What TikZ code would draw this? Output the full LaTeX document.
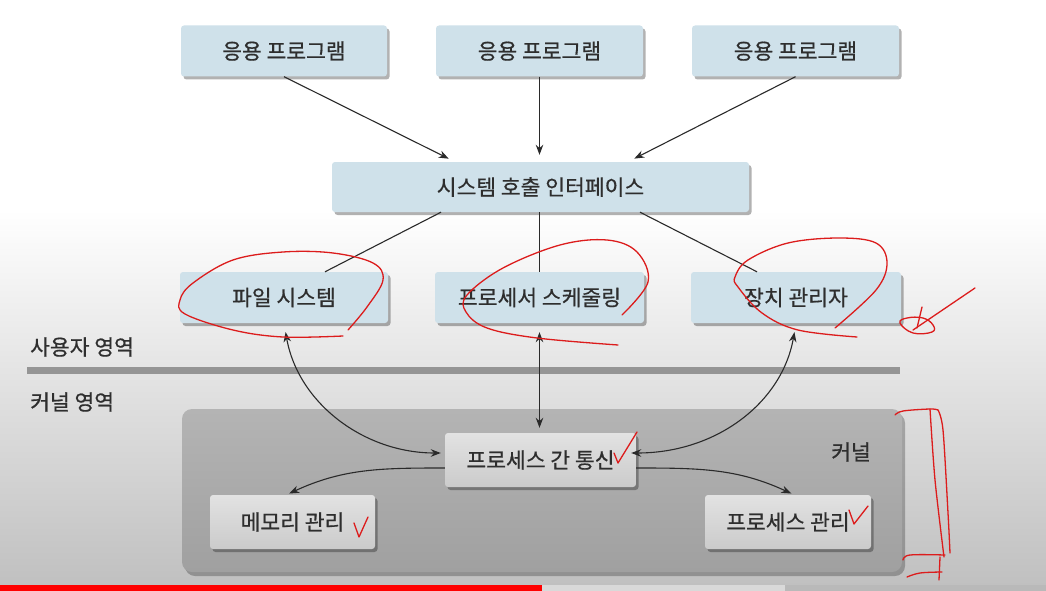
\documentclass[tikz,border=0pt]{standalone}
\usepackage{fontspec}
\setmainfont{Noto Sans CJK KR}[FakeBold=0.6]
\usetikzlibrary{arrows.meta,shadows,calc}
\definecolor{boxblue}{HTML}{CFE1EA}
\definecolor{txtc}{HTML}{2E2E2E}
\definecolor{linec}{HTML}{2A2A2A}
\definecolor{divgray}{HTML}{959595}
\definecolor{bggray}{HTML}{C0C0C0}
\definecolor{kerntop}{HTML}{B4B4B4}
\definecolor{kernbot}{HTML}{A0A0A0}
\definecolor{gboxtop}{HTML}{E2E2E2}
\definecolor{gboxbot}{HTML}{CBCBCB}
\definecolor{penred}{HTML}{DC1C1C}
\tikzset{
  shad/.style={drop shadow={shadow xshift=2.5pt, shadow yshift=-3pt, fill=black, opacity=0.3}},
  bluebox/.style={rectangle, rounded corners=3pt, fill=boxblue, text=txtc, minimum height=51pt, shad},
  greybox/.style={rectangle, rounded corners=3pt, top color=gboxtop, bottom color=gboxbot, text=txtc, minimum height=54pt, shad},
  kernelbox/.style={rectangle, rounded corners=10pt, top color=kerntop, bottom color=kernbot, drop shadow={shadow xshift=3pt, shadow yshift=-4pt, fill=black, opacity=0.25}},
  lbl/.style={text=txtc, inner sep=0pt},
  conn/.style={draw=linec, line width=1.1pt},
  tip/.tip={Stealth[length=10pt, width=7.5pt]},
  arr/.style={conn, -tip},
  darr/.style={conn, tip-tip},
  redmark/.style={draw=penred, line width=1.3pt, line cap=round, line join=round},
}
\begin{document}
\begin{tikzpicture}[x=1pt, y=1pt, font=\fontsize{21.5pt}{25pt}\selectfont]
\useasboundingbox (0,0) rectangle (1046,-591);
% background
\fill[white] (0,0) rectangle (1046,-591);
\shade[top color=white, bottom color=bggray] (0,-210) rectangle (1046,-585.5);
% progress bar
\fill[red] (0,-585) rectangle (542,-591);
\fill[gray!30] (542,-585) rectangle (785,-591);
\fill[gray!55] (785,-585) rectangle (1046,-591);

% kernel area
\node[kernelbox, minimum width=720pt, minimum height=163pt] (kern) at (542,-490.5) {};
\node[lbl] (kernlbl) at (851,-452) {커널};

% user / kernel divider
\coordinate (dl) at (27,-370);
\coordinate (dr) at (900,-370);
\draw[line width=7pt, divgray] (dl) -- (dr);
\node[lbl, anchor=west] (ulbl) at (30,-347) {사용자 영역};
\node[lbl, anchor=west] (klbl) at (30,-402) {커널 영역};

% boxes
\node[bluebox, minimum width=206pt] (app1) at (284,-51) {응용 프로그램};
\node[bluebox, minimum width=207pt] (app2) at (539.5,-51) {응용 프로그램};
\node[bluebox, minimum width=207pt] (app3) at (795.5,-51) {응용 프로그램};
\node[bluebox, minimum width=417pt, minimum height=50pt] (sci) at (540.5,-187) {시스템 호출 인터페이스};
\node[bluebox, minimum width=208pt] (fs) at (284,-297.5) {파일 시스템};
\node[bluebox, minimum width=209pt] (sched) at (539.5,-297.5) {프로세서 스케줄링};
\node[bluebox, minimum width=210pt] (dev) at (796,-297.5) {장치 관리자};
\node[greybox, minimum width=191pt] (ipc) at (540.5,-460) {프로세스 간 통신};
\node[greybox, minimum width=165pt] (mem) at (292.5,-522) {메모리 관리};
\node[greybox, minimum width=166pt] (pm) at (788,-522) {프로세스 관리};

% connectors
\draw[arr, shorten >=7pt] (app1.south) -- ([xshift=-85.5pt]sci.north);
\draw[arr, shorten >=7pt] (app2.south) -- (app2.south |- sci.north);
\draw[arr, shorten >=7pt] (app3.south) -- ([xshift=87.5pt]sci.north);
\draw[conn] ([xshift=-99.5pt]sci.south) -- ([xshift=41pt]fs.north);
\draw[conn] (sched.north |- sci.south) -- (sched.north);
\draw[conn] ([xshift=99.5pt]sci.south) -- ([xshift=-39pt]dev.north);
\draw[darr, shorten <=9pt, shorten >=4pt] (fs.south) to[out=-80, in=180] ([yshift=7pt]ipc.west);
\draw[darr, shorten <=9pt, shorten >=5pt] (sched.south) -- (sched.south |- ipc.north);
\draw[darr, shorten <=9pt, shorten >=-5pt] (dev.south) to[out=-100, in=0] ([yshift=7pt]ipc.east);
\draw[arr, shorten >=3pt] ([yshift=-8pt]ipc.west) to[out=180, in=25] ([xshift=-6pt]mem.north);
\draw[arr, shorten >=3pt] ([yshift=-8pt]ipc.east) to[out=0, in=155] ([xshift=6pt]pm.north);

% red handwritten annotations
\draw[redmark] plot[smooth, tension=0.6] coordinates {(348,-330) (367,-307) (383,-280) (373,-263) (333,-253) (283,-252) (233,-260) (193,-283) (180,-300) (185,-314) (233,-330) (283,-337) (343,-336)};
\draw[redmark] plot[smooth, tension=0.6] coordinates {(622,-315) (648,-282) (637,-252) (607,-240) (560,-245) (503,-268) (467,-295) (466,-312) (487,-328) (537,-338) (618,-345)};
\draw[redmark] plot[smooth, tension=0.6] coordinates {(835,-328) (876,-290) (887,-263) (876,-243) (839,-238) (788,-243) (748,-260) (735,-277) (738,-287) (762,-313) (798,-330) (857,-337)};
% scribble near device manager
\draw[redmark] (975,-288) -- (913,-330);
\draw[redmark] (922,-307) -- (917,-328);
\draw[redmark] plot[smooth cycle, tension=0.7] coordinates {(900,-323) (913,-333) (932,-332) (933,-325) (923,-318) (907,-318)};
% bracket beside kernel
\draw[redmark] plot[smooth, tension=0.6] coordinates {(895,-415) (903,-411) (930,-409) (938,-410)};
\draw[redmark] plot[smooth, tension=0.5] coordinates {(930,-409) (935,-480) (944,-557)};
\draw[redmark] plot[smooth, tension=0.5] coordinates {(938,-410) (943,-430) (948,-513) (950,-553)};
\draw[redmark] plot[smooth, tension=0.6] coordinates {(903,-560) (910,-555) (945,-555)};
\draw[redmark] plot[smooth, tension=0.6] coordinates {(907,-577) (920,-573) (942,-572)};
\draw[redmark] (940,-557) -- (939,-580);
% check marks
\draw[redmark] (614,-453) -- (618,-463) -- (637,-432);
\draw[redmark] (354,-523) -- (359,-537) -- (368,-517);
\draw[redmark] (849,-510) -- (854,-524) -- (868,-506);
\end{tikzpicture}
\end{document}
